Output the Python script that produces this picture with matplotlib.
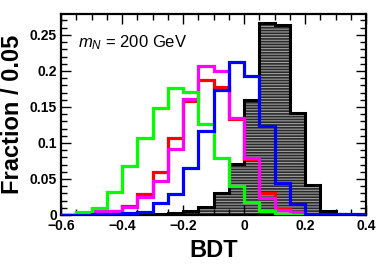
import numpy as np
import matplotlib
matplotlib.use("Agg")
import matplotlib.pyplot as plt
from matplotlib.ticker import MultipleLocator

plt.rcParams['font.family'] = ['Liberation Sans', 'DejaVu Sans']
plt.rcParams['mathtext.fontset'] = 'custom'
plt.rcParams['mathtext.rm'] = 'Liberation Sans'
plt.rcParams['mathtext.it'] = 'Liberation Sans:italic'
plt.rcParams['hatch.linewidth'] = 0.8

# Data
bin_edges = np.linspace(-0.6, 0.4, 21)
background = [0, 0, 0, 0, 0, 0, 0.001, 0.0025, 0.0055, 0.0115, 0.030, 0.071,
              0.160, 0.266, 0.264, 0.141, 0.042, 0.0055, 0.001, 0]
red_sig = [0, 0, 0.004, 0.006, 0.012, 0.029, 0.060, 0.107, 0.158, 0.1875,
           0.178, 0.133, 0.078, 0.031, 0.008, 0.004, 0, 0, 0, 0]
magenta_sig = [0, 0, 0.005, 0.005, 0.011, 0.025, 0.047, 0.092, 0.161, 0.207,
               0.200, 0.134, 0.079, 0.023, 0.007, 0.0045, 0, 0, 0, 0]
blue_sig = [0, 0, 0.001, 0.002, 0.003, 0.0035, 0.016, 0.029, 0.065, 0.116,
            0.173, 0.213, 0.193, 0.123, 0.044, 0.015, 0.001, 0.001, 0.001, 0.001]
green_sig = [0, 0.004, 0.010, 0.032, 0.068, 0.107, 0.149, 0.176, 0.171, 0.127,
             0.079, 0.040, 0.0185, 0.0055, 0.001, 0, 0, 0, 0, 0]
label_text = r'$m_{N}$ = 200 GeV'

fig = plt.figure(figsize=(3.82, 2.73), dpi=100)
ax = fig.add_axes([0.1597, 0.2125, 0.7985, 0.7362])

ax.stairs(background, bin_edges, fill=True, facecolor='#2a2a2a',
          edgecolor='#a0a0a0', linewidth=0, hatch='------', zorder=1)
ax.stairs(background, bin_edges, color='black', linewidth=2.2, zorder=2)

lw = 2.3
ax.stairs(red_sig, bin_edges, color='#ff0000', linewidth=lw, zorder=3)
ax.stairs(magenta_sig, bin_edges, color='#ff00ff', linewidth=lw, zorder=4)
ax.stairs(green_sig, bin_edges, color='#00ff00', linewidth=lw, zorder=5)
ax.stairs(blue_sig, bin_edges, color='#0000ff', linewidth=lw, zorder=6)

ax.set_xlim(-0.6, 0.4)
ax.set_ylim(0, 0.279)

ax.xaxis.set_major_locator(MultipleLocator(0.2))
ax.xaxis.set_minor_locator(MultipleLocator(0.05))
ax.yaxis.set_major_locator(MultipleLocator(0.05))
ax.yaxis.set_minor_locator(MultipleLocator(0.01))

def fmt(v, pos):
    s = f"{v:.2f}".rstrip('0').rstrip('.')
    if s in ('-0', '0'):
        return '0'
    return s.replace('-', '\u2212')

ax.xaxis.set_major_formatter(plt.FuncFormatter(fmt))
ax.yaxis.set_major_formatter(plt.FuncFormatter(fmt))

ax.tick_params(which='both', direction='in', top=True, right=True,
               width=1.0, labelsize=10)
ax.tick_params(which='major', length=7, pad=3)
ax.tick_params(which='minor', length=4)
for lab in ax.get_xticklabels() + ax.get_yticklabels():
    lab.set_fontweight('bold')
for sp in ax.spines.values():
    sp.set_linewidth(1.6)

ax.set_xlabel('BDT', fontsize=17, fontweight='bold', labelpad=4)
ax.set_ylabel('Fraction / 0.05', fontsize=17, fontweight='bold', labelpad=4)

ax.text(0.056, 0.233, label_text, transform=ax.get_yaxis_transform(),
        fontsize=12, ha='left', va='baseline')

fig.savefig('out.png', dpi=100)
